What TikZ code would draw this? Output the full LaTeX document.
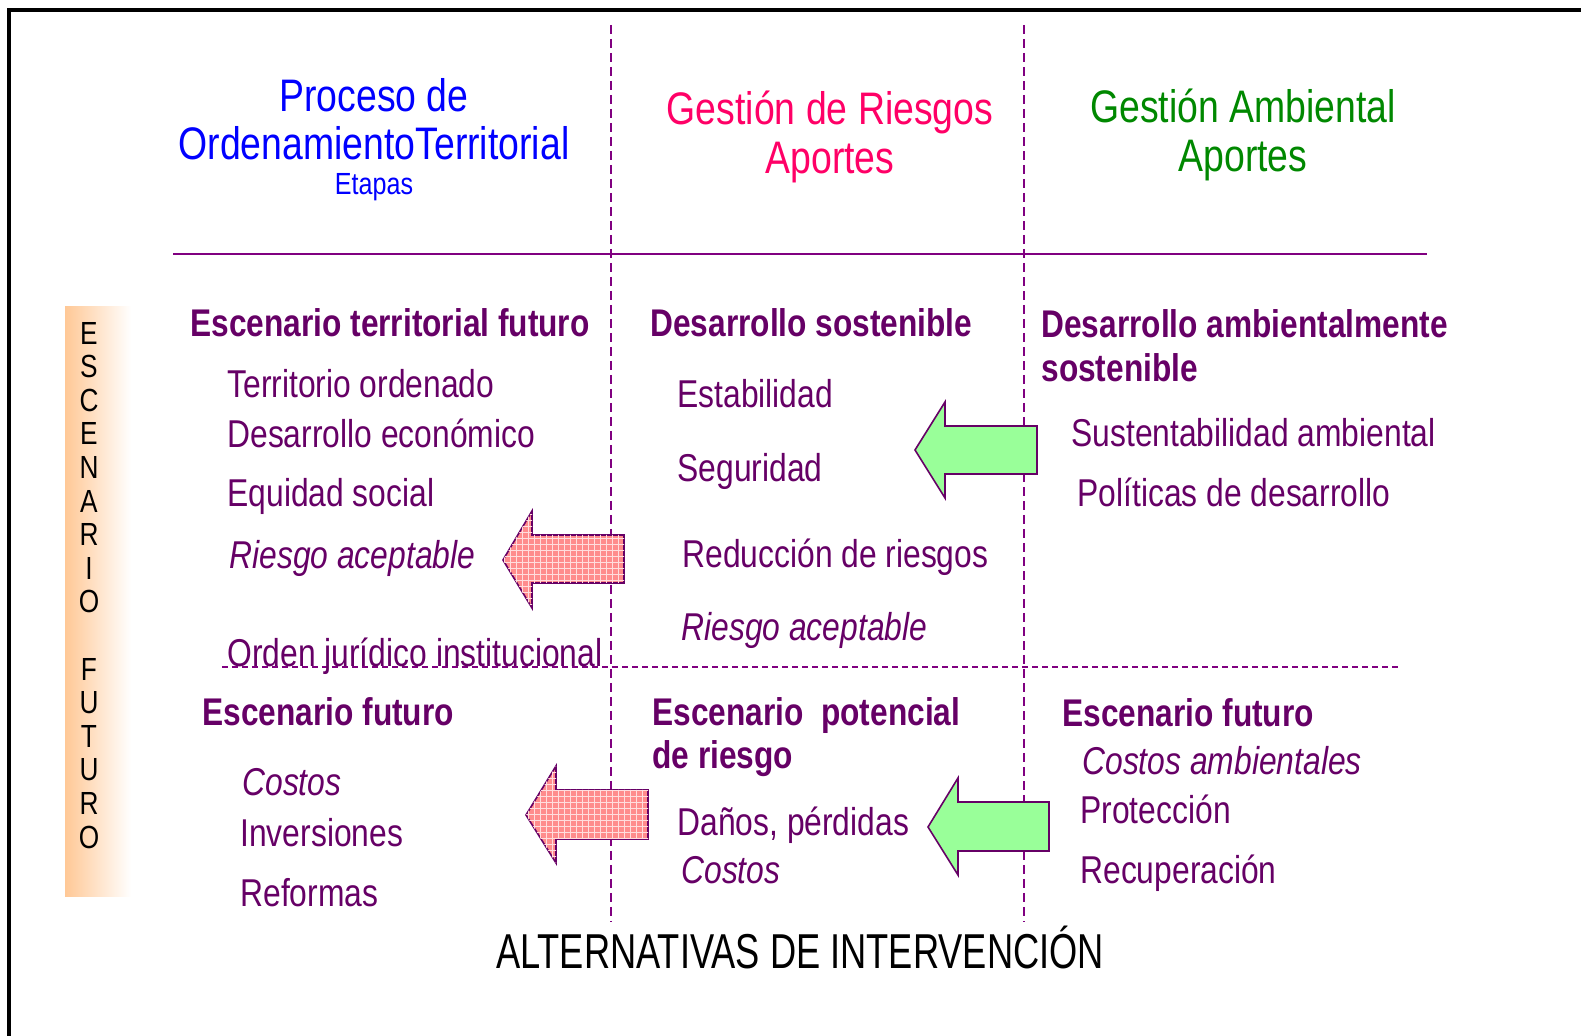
\documentclass[tikz,border=0pt]{standalone}
\usepackage{fontspec}
\setmainfont{Liberation Sans}[FakeStretch=0.82]
\newfontfamily\estrecha{Liberation Sans}[FakeStretch=0.74]
\usetikzlibrary{patterns}
\definecolor{morado}{RGB}{102,0,102}
\definecolor{linea}{RGB}{128,0,128}
\definecolor{azul}{RGB}{0,0,255}
\definecolor{rosa}{RGB}{255,0,102}
\definecolor{verde}{RGB}{0,136,0}
\definecolor{naranja}{RGB}{255,200,150}
\definecolor{rojoclaro}{RGB}{255,140,140}
\definecolor{verdeclaro}{RGB}{153,255,153}
\tikzset{
  txt/.style={anchor=west,inner sep=0pt,text=morado,text height=1.38ex,text depth=0pt,yshift=-3pt,
    font=\fontsize{19.4}{21}\selectfont},
  txti/.style={txt,font=\fontsize{19.4}{21}\selectfont\itshape},
  cab/.style={anchor=west,inner sep=0pt,text=morado,text height=1.38ex,text depth=0pt,yshift=-3pt,
    font=\fontsize{19.3}{21}\selectfont\bfseries},
  tit/.style={inner sep=0pt,font=\fontsize{22.8}{24}\selectfont},
  flecha/.style={draw=morado,line width=0.8pt,line join=miter},
}
\begin{document}
\begin{tikzpicture}[x=0.5pt,y=-0.5pt]
  \useasboundingbox (0,0) rectangle (1581,1036);
  % marco
  \draw[line width=2pt] (9,1036) -- (9,10) -- (1581,10);

  % banda lateral
  \shade[left color=naranja,right color=white] (65,307) rectangle (131,897);
  \foreach \l [count=\i] in {E,S,C,E,N,A,R,I,O,{},F,U,T,U,R,O}
    \node[inner sep=0pt,font=\fontsize{16}{16}\selectfont] (l\i) at (89,{333+33.6*(\i-1)}) {\l};

  % lineas
  \draw[linea,line width=1pt,dash pattern=on 4.5pt off 2.5pt] (611,25) -- (611,922);
  \draw[linea,line width=1pt,dash pattern=on 4.5pt off 2.5pt] (1024,25) -- (1024,922);
  \draw[linea,line width=1pt] (173,254) -- (1427,254);
  \draw[linea,line width=0.8pt,dash pattern=on 3pt off 2pt] (222,667) -- (1401,667);

  % titulos
  \node[tit,text=azul] (t1a) at (374,95) {Proceso de};
  \node[tit,text=azul] (t1b) at (374,143) {OrdenamientoTerritorial};
  \node[tit,text=azul,font=\fontsize{15.3}{16}\selectfont] (t1c) at (374,187) {Etapas};
  \node[tit,text=rosa] (t2a) at (830,112) {Gestión de Riesgos};
  \node[tit,text=rosa] (t2b) at (830,163) {Aportes};
  \node[tit,text=verde] (t3a) at (1243,106) {Gestión Ambiental};
  \node[tit,text=verde] (t3b) at (1243,161) {Aportes};

  % columna 1
  \node[cab] (c1) at (190,323) {Escenario territorial futuro};
  \node[txt] (c1a) at (227,384) {Territorio ordenado};
  \node[txt] (c1b) at (227,434) {Desarrollo económico};
  \node[txt] (c1c) at (227,493) {Equidad social};
  \node[txti] (c1d) at (229,555) {Riesgo aceptable};
  \node[txt] (c1e) at (227,653) {Orden jurídico institucional};
  \node[cab] (c1f) at (202,712) {Escenario futuro};
  \node[txti] (c1g) at (242,782) {Costos};
  \node[txt] (c1h) at (240,833) {Inversiones};
  \node[txt] (c1i) at (240,893) {Reformas};

  % columna 2
  \node[cab] (c2) at (650,323) {Desarrollo sostenible};
  \node[txt] (c2a) at (677,394) {Estabilidad};
  \node[txt] (c2b) at (677,468) {Seguridad};
  \node[txt] (c2c) at (682,554) {Reducción de riesgos};
  \node[txti] (c2d) at (681,627) {Riesgo aceptable};
  \node[cab] (c2e) at (652,712) {Escenario\ \ potencial};
  \node[cab] (c2f) at (652,755) {de riesgo};
  \node[txt] (c2g) at (677,822) {Daños, pérdidas};
  \node[txti] (c2h) at (681,870) {Costos};

  % columna 3
  \node[cab] (c3) at (1041,324) {Desarrollo ambientalmente};
  \node[cab] (c3a) at (1041,368) {sostenible};
  \node[txt] (c3b) at (1071,433) {Sustentabilidad ambiental};
  \node[txt] (c3c) at (1077,493) {Políticas de desarrollo};
  \node[cab] (c3d) at (1062,713) {Escenario futuro};
  \node[txti] (c3e) at (1082,761) {Costos ambientales};
  \node[txt] (c3f) at (1080,810) {Protección};
  \node[txt] (c3g) at (1080,870) {Recuperación};

  % flechas
  \draw[flecha,fill=rojoclaro,postaction={pattern=grid,pattern color=white!70!rojoclaro}]
    (503,560) -- (532,511) -- (532,535) -- (624,535) -- (624,583) -- (532,583) -- (532,608) -- cycle;
  \draw[flecha,fill=rojoclaro,postaction={pattern=grid,pattern color=white!70!rojoclaro}]
    (526,815) -- (556,766) -- (556,790) -- (648,790) -- (648,839) -- (556,839) -- (556,863) -- cycle;
  \draw[flecha,fill=verdeclaro]
    (915,450) -- (945,402) -- (945,426) -- (1037,426) -- (1037,474) -- (945,474) -- (945,498) -- cycle;
  \draw[flecha,fill=verdeclaro]
    (928,827) -- (958,778) -- (958,802) -- (1049,802) -- (1049,851) -- (958,851) -- (958,875) -- cycle;

  % pie
  \node[inner sep=0pt,font=\fontsize{24.5}{26}\selectfont\estrecha] (pie) at (800,947) {ALTERNATIVAS DE INTERVENCIÓN};
\end{tikzpicture}
\end{document}
